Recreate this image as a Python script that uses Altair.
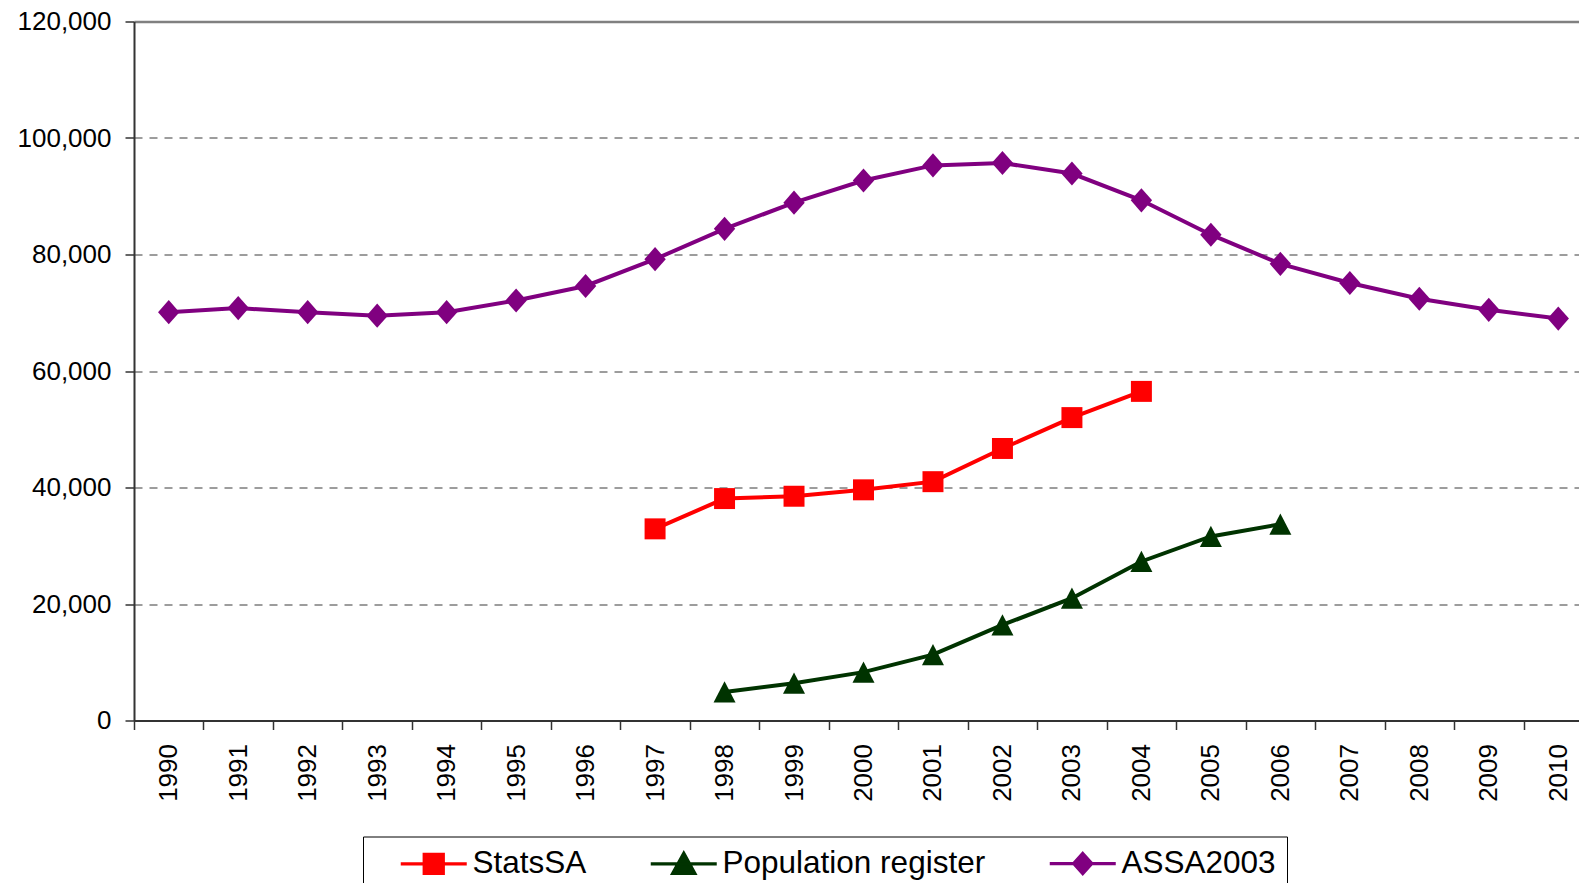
import altair as alt
import pandas as pd

years = ["1990", "1991", "1992", "1993", "1994", "1995", "1996", "1997", "1998", "1999",
         "2000", "2001", "2002", "2003", "2004", "2005", "2006", "2007", "2008", "2009", "2010"]
series_names = ["StatsSA", "Population register", "ASSA2003"]

statssa_years = ["1997", "1998", "1999", "2000", "2001", "2002", "2003", "2004"]
statssa = [32900, 38100, 38500, 39600, 41000, 46700, 52000, 56500]

popreg_years = ["1998", "1999", "2000", "2001", "2002", "2003", "2004", "2005", "2006"]
popreg = [4900, 6400, 8300, 11300, 16400, 21000, 27300, 31600, 33700]

assa_years = years
assa = [70100, 70800, 70100, 69500, 70100, 72100, 74600, 79200, 84400, 88900, 92700,
        95300, 95700, 93900, 89300, 83400, 78400, 75100, 72400, 70500, 69000]

colors = ["#FF0000", "#003300", "#800080"]
y_ticks = [0, 20000, 40000, 60000, 80000, 100000, 120000]

rows = []
for name, ys, vs in [("StatsSA", statssa_years, statssa),
                     ("Population register", popreg_years, popreg),
                     ("ASSA2003", assa_years, assa)]:
    for yr, v in zip(ys, vs):
        rows.append({"series": name, "year": yr, "value": v})
df = pd.DataFrame(rows)

FONT = "Liberation Sans"

# chart marker paths
marker_paths = {
    "StatsSA": "M-1,-1L1,-1L1,1L-1,1Z",
    "Population register": "M0,-1.02L1.05,1L-1.05,1Z",
    "ASSA2003": "M0,-1.15L1.02,0L0,1.15L-1.02,0Z",
}

# legend symbol paths (line + marker)
lg_sq = "M-3.3,0L3.3,0M-0.95,-0.95L0.95,-0.95L0.95,0.95L-0.95,0.95Z"
lg_tri = "M-3.3,0L3.3,0M0,-1.05L1.1,0.95L-1.1,0.95Z"
lg_dia = "M-3.3,0L3.3,0M0,-1.0L0.9,0L0,1.0L-0.9,0Z"
shape_expr = ("datum.value === 'StatsSA' ? '%s' : (datum.value === 'Population register' ? '%s' : '%s')"
              % (lg_sq, lg_tri, lg_dia))
color_expr = "scale('color', datum.value)"

legend = alt.Legend(
    title=None,
    orient="none",
    legendX=229,
    legendY=815,
    direction="horizontal",
    strokeColor="black",
    padding=11,
    labelFont=FONT,
    labelFontSize=31.5,
    labelColor="black",
    labelLimit=0,
    symbolSize=400,
    symbolStrokeWidth=3.3,
    symbolType={"expr": shape_expr},
    symbolFillColor={"expr": color_expr},
    symbolStrokeColor={"expr": color_expr},
    symbolOpacity=1,
    symbolOffset=44,
    labelOffset=23,
    columnPadding=37,
)

color_scale = alt.Scale(domain=series_names, range=colors)

x_enc = alt.X(
    "year:O",
    scale=alt.Scale(type="band", domain=years, paddingInner=0, paddingOuter=0, range=[0, 1459]),
    axis=alt.Axis(
        title=None,
        tickBand="extent",
        labelAngle=270,
        labelFont=FONT,
        labelFontSize=26,
        labelColor="black",
        labelPadding=14,
        tickSize=9,
        tickWidth=1.5,
        tickColor="#333333",
        domainColor="#333333",
        domainWidth=2,
        grid=False,
    ),
)
y_enc = alt.Y(
    "value:Q",
    scale=alt.Scale(domain=[0, 120000], nice=False),
    axis=alt.Axis(
        title=None,
        values=y_ticks,
        format=",.0f",
        labelFont=FONT,
        labelFontSize=26,
        labelColor="black",
        labelPadding=14,
        tickSize=9,
        tickWidth=1.5,
        tickColor="#333333",
        domainColor="#333333",
        domainWidth=2,
        grid=True,
        gridDash={"condition": {"test": "datum.value >= 120000", "value": []}, "value": [8, 7]},
        gridColor={"condition": {"test": "datum.value >= 120000", "value": "#808080"}, "value": "#3a3a3a"},
        gridWidth={"condition": {"test": "datum.value >= 120000", "value": 2.5}, "value": 1},
    ),
)

color_enc = alt.Color("series:N", scale=color_scale, legend=legend)

base = alt.Chart(df)
lines = base.mark_line(strokeWidth=4).encode(
    x=x_enc, y=y_enc, color=color_enc, order=alt.Order("year:O"),
)
point_layers = [
    base.transform_filter(alt.datum.series == name)
    .mark_point(filled=True, size=440, opacity=1, shape=marker_paths[name])
    .encode(x=x_enc, y=y_enc, color=color_enc)
    for name in series_names
]

chart = alt.layer(lines, *point_layers).properties(
    width=1445,
    height=699,
    autosize=alt.AutoSizeParams(type="none"),
    padding={"left": 126, "top": 13.5, "right": 0, "bottom": 162},
    background="white",
).configure_view(stroke=None)

chart.save("out.html", embed_options={"renderer": "svg", "actions": False})
